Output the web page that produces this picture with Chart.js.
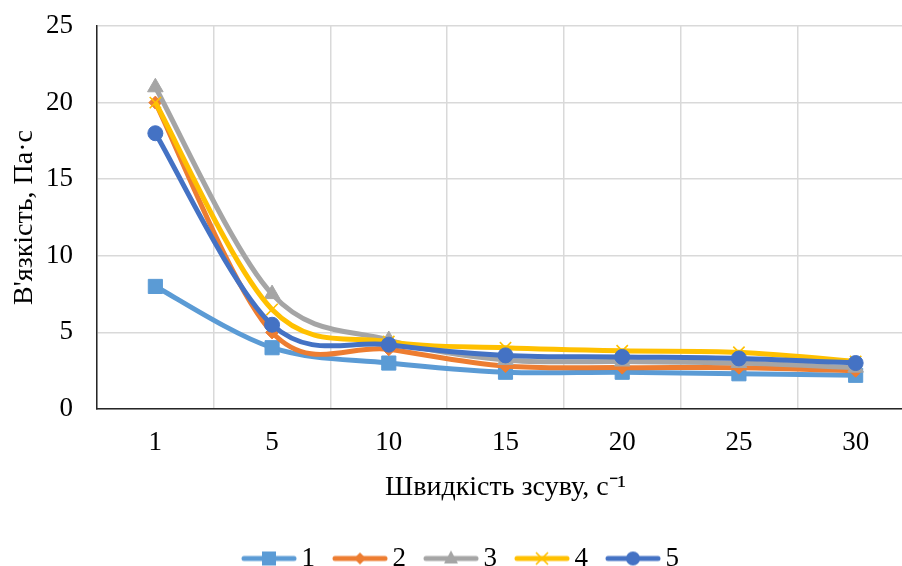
<!DOCTYPE html>
<html>
<head>
<meta charset="utf-8">
<script src="https://cdn.jsdelivr.net/npm/chart.js@4"></script>
<style>
  html, body { margin: 0; padding: 0; background: #fff; overflow: hidden; }
  #wrap { width: 925px; height: 582px; }
</style>
</head>
<body>
<div id="wrap"><canvas id="viscosityChart"></canvas></div>
<script>
// shear rate categories (x axis)
const shearRates = ['1', '5', '10', '15', '20', '25', '30'];
// viscosity, Pa·s
const series1 = [8, 4, 3, 2.4, 2.4, 2.3, 2.2];
const series2 = [20, 5, 3.9, 2.8, 2.7, 2.7, 2.5];
const series3 = [21, 7.5, 4.5, 3.2, 3.1, 3.0, 2.7];
const series4 = [20, 6.5, 4.4, 4.0, 3.8, 3.7, 3.1];
const series5 = [18, 5.5, 4.2, 3.5, 3.4, 3.3, 3.0];
const seriesNames = ['1', '2', '3', '4', '5'];
const yTicks = [0, 5, 10, 15, 20, 25];

const colors = ['#5B9BD5', '#ED7D31', '#A5A5A5', '#FFC000', '#4472C4'];
const markers = ['rect', 'rectRot', 'triangle', 'crossRot', 'circle'];
const markerSizes = [10, 6.5, 9, 8, 7.5];
const fontFamily = "'Liberation Serif', 'Times New Roman', serif";

Chart.defaults.font.family = fontFamily;
Chart.defaults.color = '#000';

// small line + marker picture for each legend entry
const makeLegendIcon = (color, marker) => {
    const c = document.createElement('canvas');
    c.width = 56;
    c.height = 20;
    const g = c.getContext('2d');
    g.strokeStyle = color;
    g.fillStyle = color;
    g.lineWidth = 5;
    g.lineCap = 'round';
    g.beginPath();
    g.moveTo(3, 10);
    g.lineTo(53, 10);
    g.stroke();
    g.beginPath();
    if (marker === 'rect') {
        g.fillRect(21, 3, 14, 14);
    } else if (marker === 'rectRot') {
        g.moveTo(28, 4); g.lineTo(34, 10); g.lineTo(28, 16); g.lineTo(22, 10);
        g.closePath(); g.fill();
    } else if (marker === 'triangle') {
        g.moveTo(28, 2); g.lineTo(35, 15); g.lineTo(21, 15);
        g.closePath(); g.fill();
    } else if (marker === 'crossRot') {
        g.lineWidth = 1.6;
        g.lineCap = 'butt';
        g.moveTo(22, 4); g.lineTo(34, 16);
        g.moveTo(34, 4); g.lineTo(22, 16);
        g.stroke();
    } else {
        g.arc(28, 10, 7, 0, Math.PI * 2);
        g.fill();
    }
    return c;
};

const allSeries = [series1, series2, series3, series4, series5];
const legendIcons = allSeries.map((s, i) => makeLegendIcon(colors[i], markers[i]));

const datasets = allSeries.map((values, i) => ({
    label: seriesNames[i],
    data: values,
    borderColor: colors[i],
    backgroundColor: colors[i],
    borderWidth: 5,
    tension: 0.4,
    pointStyle: markers[i],
    pointRadius: markerSizes[i],
    pointBorderWidth: markers[i] === 'crossRot' ? 1.6 : 1,
    pointBorderColor: colors[i],
    pointBackgroundColor: colors[i],
    order: allSeries.length - i // later series drawn on top, like Excel
}));

// Excel style smoothing: control points at 1/6 of the neighbour chord
const excelSmoothing = {
    id: 'excelSmoothing',
    beforeDatasetsDraw(chart) {
        chart.getSortedVisibleDatasetMetas().forEach(meta => {
            const line = meta.dataset;
            if (line && line.updateControlPoints) {
                line.updateControlPoints(chart.chartArea, meta.indexAxis);
            }
            const pts = meta.data;
            const n = pts.length;
            for (let i = 0; i < n; i++) {
                const prev = pts[Math.max(i - 1, 0)];
                const next = pts[Math.min(i + 1, n - 1)];
                const dx = (next.x - prev.x) / 6;
                const dy = (next.y - prev.y) / 6;
                pts[i].cp1x = pts[i].x - dx;
                pts[i].cp1y = pts[i].y - dy;
                pts[i].cp2x = pts[i].x + dx;
                pts[i].cp2y = pts[i].y + dy;
            }
            if (line) line._path = undefined;
        });
    }
};

// nudge the legend a little to the right, it is not centred on the canvas in the original
const legendShift = {
    id: 'legendShift',
    afterLayout(chart) {
        chart.legend.left += 4;
        chart.legend.right += 4;
    }
};

const ctx = document.getElementById('viscosityChart').getContext('2d');
new Chart(ctx, {
    type: 'line',
    data: { labels: shearRates, datasets: datasets },
    plugins: [excelSmoothing, legendShift],
    options: {
        responsive: true,
        maintainAspectRatio: false,
        animation: false,
        devicePixelRatio: 1,
        layout: { padding: { top: 26, right: 4, left: 0, bottom: 0 } },
        scales: {
            x: {
                offset: true,
                grid: { offset: true, color: '#D9D9D9', lineWidth: 1.5, drawTicks: false },
                border: { color: '#262626', width: 1.5 },
                ticks: { font: { size: 27 }, padding: 18, maxRotation: 0 },
                title: {
                    display: true,
                    text: 'Швидкість зсуву, с⁻¹',
                    font: { size: 28 },
                    padding: { top: 0, bottom: 15 }
                },
                afterFit: scale => { scale.height = 110; }
            },
            y: {
                min: yTicks[0],
                max: yTicks[yTicks.length - 1],
                ticks: { stepSize: yTicks[1] - yTicks[0], font: { size: 27 }, padding: 24 },
                grid: { color: '#D9D9D9', lineWidth: 1.5, drawTicks: false },
                border: { color: '#262626', width: 1.5 },
                title: {
                    display: true,
                    text: "В'язкість, Па·с",
                    font: { size: 28 },
                    padding: { top: 8, bottom: 0 }
                },
                afterFit: scale => {
                    scale.width = 97;
                    // labels fit inside the layout padding, no extra room needed
                    scale.paddingTop = 0;
                    scale.paddingBottom = 0;
                }
            }
        },
        plugins: {
            tooltip: { enabled: false },
            legend: {
                position: 'bottom',
                labels: {
                    usePointStyle: true,
                    pointStyleWidth: 38,
                    padding: 26,
                    color: '#000',
                    font: { size: 27 },
                    generateLabels: chart => chart.data.datasets.map((ds, i) => ({
                        text: ds.label,
                        pointStyle: legendIcons[i],
                        fillStyle: ds.borderColor,
                        strokeStyle: ds.borderColor,
                        lineWidth: 0,
                        hidden: false,
                        datasetIndex: i,
                        fontColor: '#000'
                    }))
                }
            }
        }
    }
});
</script>
</body>
</html>
